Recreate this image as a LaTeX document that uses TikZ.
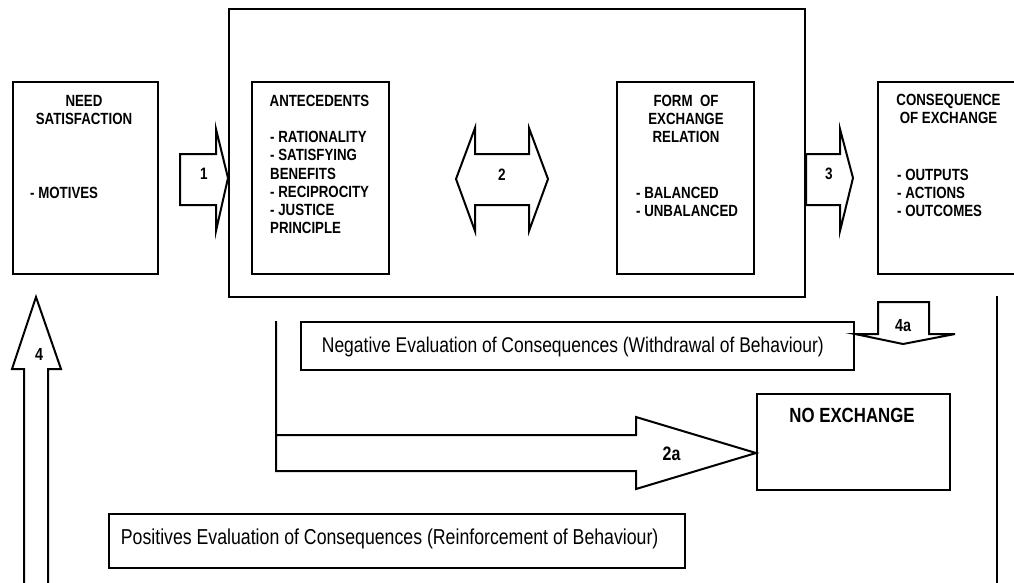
\documentclass[tikz,border=0pt]{standalone}
\usepackage{fontspec}
\setmainfont{Liberation Sans}[FakeStretch=0.82]
\usetikzlibrary{calc}

\tikzset{
  line/.style={draw=black, line width=2pt, line join=miter},
  box/.style={line, rectangle, inner sep=0pt, anchor=north west},
  blk/.style={line, fill=white},
  head/.style={inner sep=0pt, anchor=base, font=\bfseries\fontsize{16.2}{18.2}\selectfont},
  items/.style={inner sep=0pt, anchor=base west, font=\bfseries\fontsize{16.2}{18.2}\selectfont},
  num/.style={inner sep=0pt, anchor=base, font=\bfseries\fontsize{17.5}{20}\selectfont},
  stagenum/.style={num, font=\bfseries\fontsize{16.5}{18}\selectfont},
  evaltext/.style={inner sep=0pt, anchor=base west},
}
\newcommand{\stack}[2][c]{\begin{tabular}[t]{@{}#1@{}}#2\end{tabular}}

\begin{document}
\begin{tikzpicture}[x=1pt, y=-1pt]
\useasboundingbox (0,0) rectangle (1014,582);

% frame around the exchange process
\node[box, minimum width=576pt, minimum height=288pt] (frame) at (228,8) {};

% the four stages
\node[box, minimum width=145pt, minimum height=192pt] (need) at (12,81) {};
\node[box, minimum width=137pt, minimum height=192pt] (ante) at (251,81) {};
\node[box, minimum width=137pt, minimum height=192pt] (form) at (616,81) {};
\node[box, minimum width=150pt, minimum height=192pt] (cons) at (877,81) {};

% outcome boxes
\node[box, minimum width=553pt, minimum height=48pt] (neg) at (300,321) {};
\node[box, minimum width=193pt, minimum height=96pt] (noex) at (756,393) {};
\node[box, minimum width=576pt, minimum height=54pt] (pos) at (108,513) {};

% box texts
\node[head] (needT) at (84,106.5) {\stack{NEED\\SATISFACTION}};
\node[items] (needL) at (30,198) {- MOTIVES};
\node[head] (anteT) at (319.5,106) {ANTECEDENTS};
\node[items] (anteL) at (270,142.7) {\stack[l]{- RATIONALITY\\- SATISFYING\\BENEFITS\\- RECIPROCITY\\- JUSTICE\\PRINCIPLE}};
\node[head] (formT) at (686,106) {\stack{FORM\ \ OF\\EXCHANGE\\RELATION}};
\node[items] (formL) at (636,198.3) {\stack[l]{- BALANCED\\- UNBALANCED}};
\node[head] (consT) at (948.5,105.7) {\stack{CONSEQUENCE\\OF EXCHANGE}};
\node[items] (consL) at (897,180) {\stack[l]{- OUTPUTS\\- ACTIONS\\- OUTCOMES}};
\node[inner sep=0pt, anchor=base, font=\bfseries\fontsize{20.5}{24}\selectfont] (noexT) at (852,422.7) {NO EXCHANGE};
\node[evaltext, font=\fontsize{21.3}{25}\selectfont] (negT) at (321.7,352.3) {Negative Evaluation of Consequences (Withdrawal of Behaviour)};
\node[evaltext, font=\fontsize{21.6}{25}\selectfont] (posT) at (120.7,544.3) {Positives Evaluation of Consequences (Reinforcement of Behaviour)};

% block arrow 1: need satisfaction -> antecedents
\draw[blk] (180,154) -- (216,154) -- (216,129) -- (frame.west |- need.east) -- (216,231) -- (216,205) -- (180,205) -- cycle;
\node[stagenum] (n1) at (204,179.3) {1};

% block arrow 2: antecedents <-> form of exchange
\draw[blk] (456,179) -- (475,128) -- (475,154) -- (529,154) -- (529,128) -- (548,179) -- (529,231) -- (529,205) -- (475,205) -- (475,231) -- cycle;
\node[stagenum] (n2) at (502,180) {2};

% block arrow 3: exchange -> consequence
\draw[blk] (frame.east |- 0,154) -- (840,154) -- (840,129) -- (853,178) -- (840,231) -- (840,205) -- (frame.east |- 0,205) -- cycle;
\node[stagenum] (n3) at (829,179.3) {3};

% block arrow 4a: consequence -> negative evaluation
\draw[blk] (neg.east |- 0,334) -- (878,334) -- (878,302) -- (929,302) -- (929,334) -- (955,334) -- (903,344) -- cycle;
\node[num] (n4a) at (903,331.7) {4a};

% block arrow 2a: exchange -> no exchange
\draw[line] (276,321) -- (276,471) -- (636,471) -- (636,489) -- (noex.west |- 0,453) -- (636,417) -- (636,435) -- (276,435);
\node[num, font=\bfseries\fontsize{19.5}{22}\selectfont] (n2a) at (671.5,460) {2a};

% feedback line from consequence
\draw[line] (997,296) -- (997,590);

% block arrow 4: positive evaluation back to need satisfaction
\draw[line] (24,590) -- (24,369) -- (12,369) -- (36,297) -- (61,369) -- (48,369) -- (48,590);
\node[num] (n4) at (39,360.7) {4};
\end{tikzpicture}
\end{document}
